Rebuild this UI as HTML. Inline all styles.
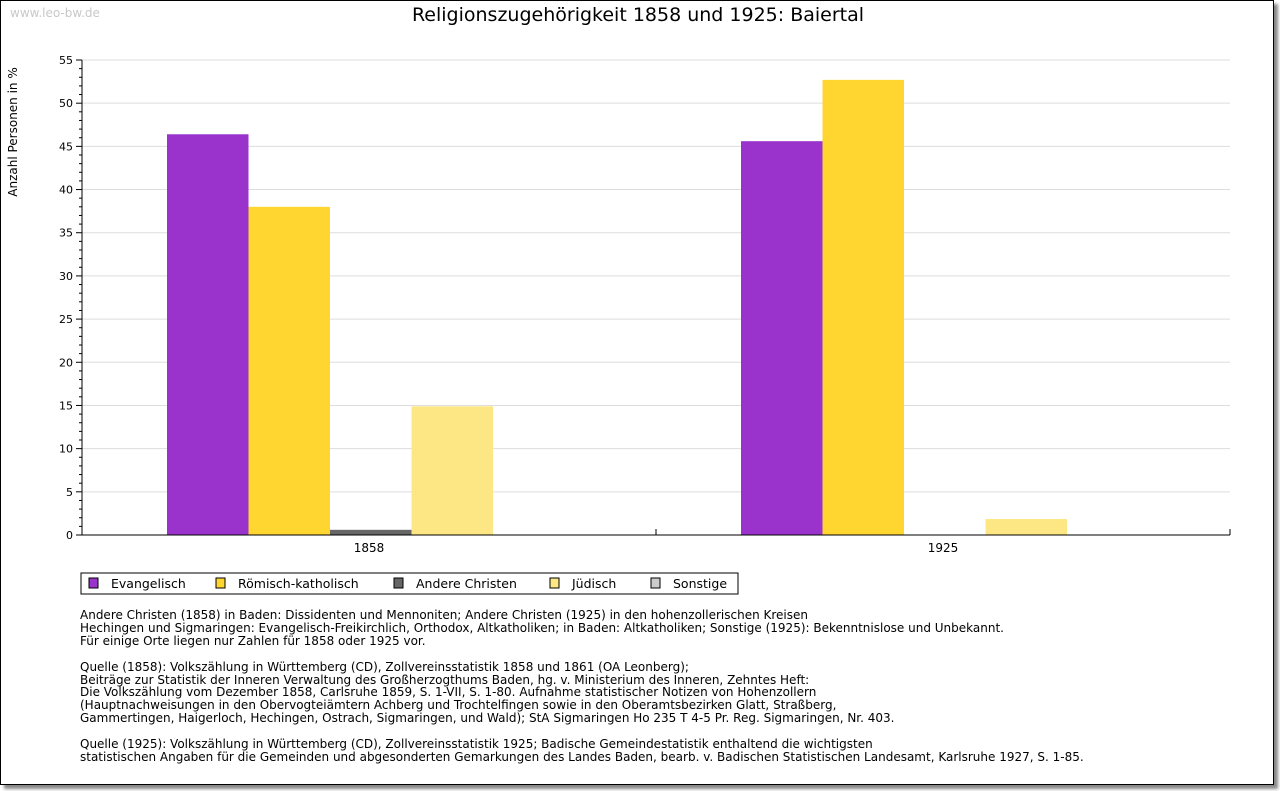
<!DOCTYPE html>
<html><head><meta charset="utf-8">
<style>
body{margin:0;background:#fff;width:1280px;height:791px;overflow:hidden;font-family:"DejaVu Sans","Liberation Sans",sans-serif;}
#frame{position:absolute;left:0;top:0;width:1272px;height:783px;border:1px solid #000;box-shadow:4px 4px 3px #888;background:#fff;}
.note{position:absolute;left:80px;font-size:12px;line-height:12.9px;color:#000;white-space:pre;}
</style></head><body>
<div id="frame"></div>
<svg id="chart" width="1280" height="791" style="position:absolute;left:0;top:0">
<text x="10" y="17" font-size="12" fill="#c8c8c8" font-family="DejaVu Sans, sans-serif">www.leo-bw.de</text>
<text x="638" y="21" font-size="19" text-anchor="middle" font-family="DejaVu Sans, sans-serif">Religionszugehörigkeit 1858 und 1925: Baiertal</text>
<text transform="translate(17,132) rotate(-90)" font-size="12" text-anchor="middle" font-family="DejaVu Sans, sans-serif">Anzahl Personen in %</text>
<g id="grid"></g><g id="bars"></g><g id="axes"></g>
<g>
<rect x="81" y="573" width="657" height="21" fill="#fff" stroke="#000"/>
<g id="legend"></g>
</g>
</svg>
<div class="note" style="top:609px">Andere Christen (1858) in Baden: Dissidenten und Mennoniten; Andere Christen (1925) in den hohenzollerischen Kreisen
Hechingen und Sigmaringen: Evangelisch-Freikirchlich, Orthodox, Altkatholiken; in Baden: Altkatholiken; Sonstige (1925): Bekenntnislose und Unbekannt.
Für einige Orte liegen nur Zahlen für 1858 oder 1925 vor.

Quelle (1858): Volkszählung in Württemberg (CD), Zollvereinsstatistik 1858 und 1861 (OA Leonberg);
Beiträge zur Statistik der Inneren Verwaltung des Großherzogthums Baden, hg. v. Ministerium des Inneren, Zehntes Heft:
Die Volkszählung vom Dezember 1858, Carlsruhe 1859, S. 1-VII, S. 1-80. Aufnahme statistischer Notizen von Hohenzollern
(Hauptnachweisungen in den Obervogteiämtern Achberg und Trochtelfingen sowie in den Oberamtsbezirken Glatt, Straßberg,
Gammertingen, Haigerloch, Hechingen, Ostrach, Sigmaringen, und Wald); StA Sigmaringen Ho 235 T 4-5 Pr. Reg. Sigmaringen, Nr. 403.

Quelle (1925): Volkszählung in Württemberg (CD), Zollvereinsstatistik 1925; Badische Gemeindestatistik enthaltend die wichtigsten
statistischen Angaben für die Gemeinden und abgesonderten Gemarkungen des Landes Baden, bearb. v. Badischen Statistischen Landesamt, Karlsruhe 1927, S. 1-85.</div>
<script>
const categories=["1858","1925"];
const seriesNames=["Evangelisch","Römisch-katholisch","Andere Christen","Jüdisch","Sonstige"];
const seriesColors=["#9933cc","#ffd630","#666666","#fde784","#cccccc"];
const evangelisch=[46.4,45.6];
const roemKath=[38.0,52.7];
const andereChristen=[0.6,0];
const juedisch=[14.9,1.85];
const sonstige=[0,0];
const yTicks=[0,5,10,15,20,25,30,35,40,45,50,55];
const series=[evangelisch,roemKath,andereChristen,juedisch,sonstige];
const NS="http://www.w3.org/2000/svg";
const X0=82,X1=1230,Y0=535,Y1=60,YMAX=55;
const y=v=>Y0-(v/YMAX)*(Y0-Y1);
const band=(X1-X0)/categories.length;
const bw=81.5,off=85;
function mk(t,a,p){const e=document.createElementNS(NS,t);for(const k in a)e.setAttribute(k,a[k]);p.appendChild(e);return e;}
const grid=document.getElementById('grid'),bars=document.getElementById('bars'),axes=document.getElementById('axes'),leg=document.getElementById('legend');
yTicks.forEach(v=>{
 if(v>0){const l=mk('line',{x1:X0,x2:X1,y1:y(v),y2:y(v),stroke:'#dddddd'},grid);
 
 }
 mk('line',{x1:X0-6,x2:X0,y1:y(v),y2:y(v),stroke:'#000'},axes);
 const t=mk('text',{x:X0-9,y:y(v)+4,'font-size':11,'text-anchor':'end'},axes);t.textContent=v;
 
 
 if(v<YMAX)for(let m=1;m<5;m++)mk('line',{x1:X0-3,x2:X0,y1:y(v+m),y2:y(v+m),stroke:'#000'},axes);
});
categories.forEach((c,i)=>{
 series.forEach((s,j)=>{
  const v=s[i];const r=mk('rect',{x:X0+i*band+off+j*bw,y:y(v),width:bw,height:Y0-y(v),fill:seriesColors[j]},bars);
  
  
 });
 const t=mk('text',{x:X0+i*band+band/2,y:552,'font-size':12,'text-anchor':'middle'},axes);t.textContent=c;
 
 
 if(i>0)mk('line',{x1:X0+i*band,x2:X0+i*band,y1:Y0,y2:Y0-6,stroke:'#000'},axes);
});
mk('line',{x1:X0,x2:X0,y1:Y1,y2:Y0,stroke:'#000'},axes);
mk('line',{x1:X0,x2:X1,y1:Y0,y2:Y0,stroke:'#000'},axes);
mk('line',{x1:X1,x2:X1,y1:Y0,y2:Y0-6,stroke:'#000'},axes);
const lx=[89,216,394,550,651];
seriesNames.forEach((n,j)=>{
 const g=mk('g',{},leg);
 
 
 mk('rect',{x:lx[j],y:578,width:9,height:10,fill:seriesColors[j],stroke:'#000'},g);
 const t=mk('text',{x:lx[j]+22,y:588,'font-size':12.5},g);t.textContent=n;
});
</script>
</body></html>
